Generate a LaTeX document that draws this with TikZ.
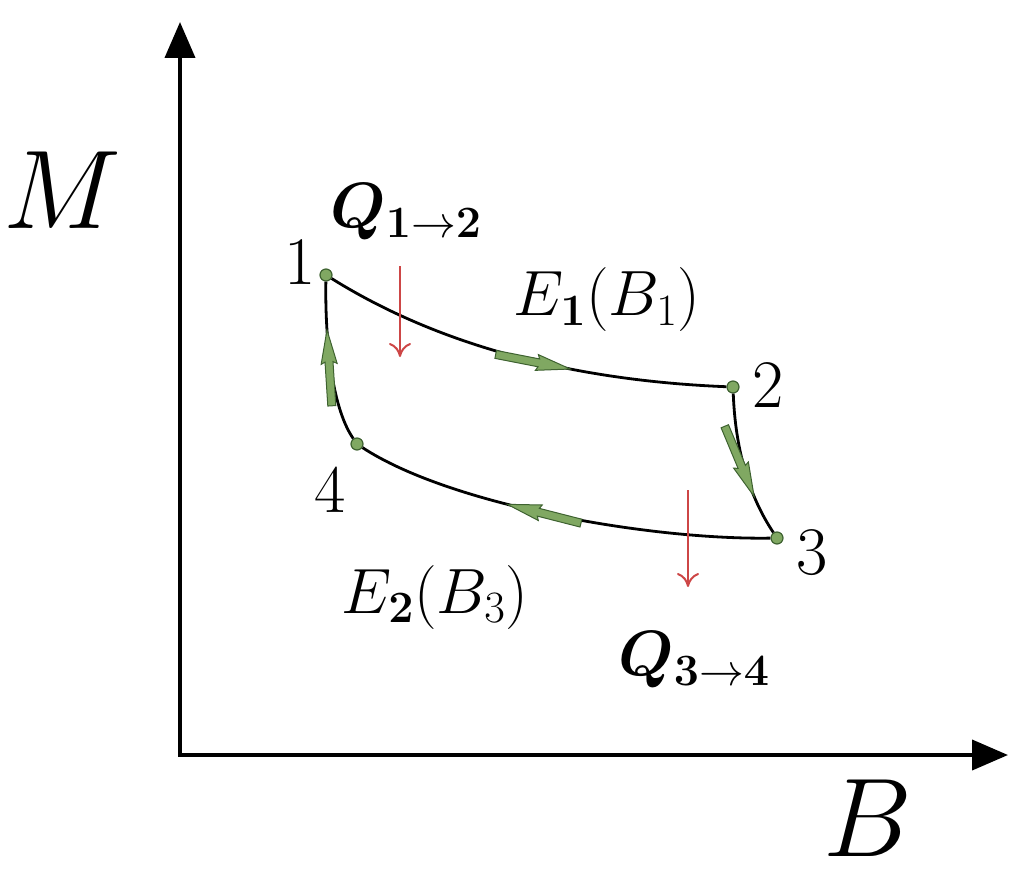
\RequirePackage{fix-cm}
\documentclass[tikz,border=0pt]{standalone}
\usepackage{amsmath,bm}
\usetikzlibrary{arrows.meta,decorations.markings}
\definecolor{gfill}{RGB}{128,168,98}
\definecolor{gdraw}{RGB}{62,98,48}
\definecolor{qred}{RGB}{205,70,70}
\tikzset{
  axis/.style={line width=4pt},
  curve/.style={line width=2.8pt, black},
  pt/.style={circle, draw=gdraw, fill=gfill, line width=1.2pt, minimum size=12pt, inner sep=0pt},
  lbl/.style={inner sep=0pt, font=\fontsize{68}{70}\selectfont},
  big/.style={inner sep=0pt, font=\fontsize{112}{115}\selectfont},
  mlbl/.style={inner sep=0pt, font=\fontsize{64}{68}\selectfont},
  heat/.style={qred, line width=2pt, -{To[length=14pt,width=22pt]}},
  garrow/.style={postaction=decorate, decoration={markings, mark=at position #1 with {
      \draw[gdraw, fill=gfill, line width=1pt] (0pt,0pt) -- (-34pt,8pt) -- (-32pt,4pt) -- (-76pt,4pt) -- (-76pt,-4pt) -- (-32pt,-4pt) -- (-34pt,-8pt) -- cycle;}}}
}
\begin{document}
\begin{tikzpicture}[x=1pt,y=-1pt]
\useasboundingbox (0,0) rectangle (1024,893);
% axes
\coordinate (ytip) at (180,22);
\coordinate (orig) at (180,755);
\coordinate (xtip) at (1008,755);
\draw[axis, {Triangle[length=36pt,width=30pt]}-{Triangle[length=36pt,width=30pt]}] (ytip) -- (orig) -- (xtip);
\node[big] (labM) at (62,190) {$M$};
\node[big] (labB) at (868,818) {$B$};
% points
\node[pt] (p1) at (326,275) {};
\node[pt] (p2) at (733,387) {};
\node[pt] (p3) at (777,538) {};
\node[pt] (p4) at (357,444) {};
% cycle
\draw[curve, garrow=0.62] (p1) .. controls (430,340) and (560,380) .. (p2);
\draw[curve, garrow=0.72] (p2) .. controls (735,440) and (745,490) .. (p3);
\draw[curve, garrow=0.63] (p3) .. controls (650,540) and (450,505) .. (p4);
\draw[curve, garrow=0.70] (p4) .. controls (330,405) and (325,330) .. (p1);
% point labels
\node[lbl] (n1) at (300,262) {1};
\node[lbl] (n2) at (768,385) {2};
\node[lbl] (n3) at (812,553) {3};
\node[lbl] (n4) at (330,490) {4};
% heat arrows
\coordinate (h1a) at (400,266);
\coordinate (h1b) at (400,357);
\coordinate (h2a) at (688,490);
\coordinate (h2b) at (688,587);
\draw[heat] (h1a) -- (h1b);
\draw[heat] (h2a) -- (h2b);
% labels
\node[mlbl] (q12) at (406,212) {$\bm{Q}_{\mathbf{1\to 2}}$};
\node[mlbl] (e1) at (607,300) {$E_{\mathbf{1}}(B_1)$};
\node[mlbl] (e2) at (435,597) {$E_{\mathbf{2}}(B_3)$};
\node[mlbl] (q34) at (694,660) {$\bm{Q}_{\mathbf{3\to 4}}$};
\end{tikzpicture}
\end{document}
